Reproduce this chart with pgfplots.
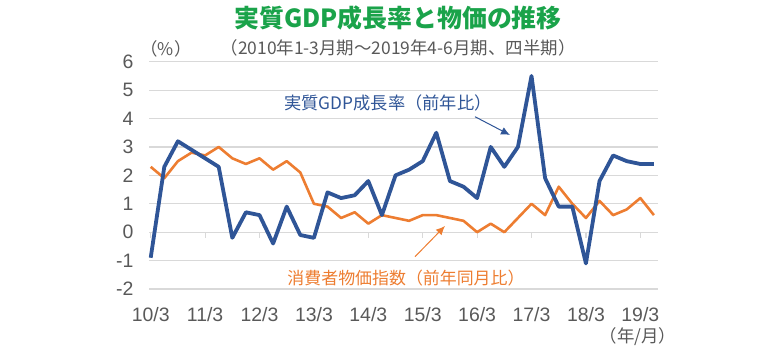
\documentclass[border=0pt]{standalone}
\usepackage{pgfplots}
\pgfplotsset{compat=1.18}
\usepackage{pgfplotstable}
\usetikzlibrary{arrows.meta}
\usepackage{fontspec}
\setmainfont{Liberation Sans}
\newfontfamily\jp{Noto Sans CJK JP}
\definecolor{gdpblue}{HTML}{2F5597}
\definecolor{cpiorange}{HTML}{ED7D31}
\definecolor{titlegreen}{HTML}{1AA34A}
\definecolor{txtgray}{HTML}{595959}
\definecolor{gridgray}{HTML}{D9D9D9}
\pgfplotstableread{
q gdp cpi
0 -0.9 2.3
1 2.3 1.9
2 3.2 2.5
3 2.9 2.8
4 2.6 2.7
5 2.3 3.0
6 -0.2 2.6
7 0.7 2.4
8 0.6 2.6
9 -0.4 2.2
10 0.9 2.5
11 -0.1 2.1
12 -0.2 1.0
13 1.4 0.9
14 1.2 0.5
15 1.3 0.7
16 1.8 0.3
17 0.6 0.6
18 2.0 0.5
19 2.2 0.4
20 2.5 0.6
21 3.5 0.6
22 1.8 0.5
23 1.6 0.4
24 1.2 0.0
25 3.0 0.3
26 2.3 0.0
27 3.0 0.5
28 5.5 1.0
29 1.9 0.6
30 0.9 1.6
31 0.9 1.0
32 -1.1 0.5
33 1.8 1.1
34 2.7 0.6
35 2.5 0.8
36 2.4 1.2
37 2.4 0.6
}\datatable
\begin{document}
\begin{tikzpicture}
\path[use as bounding box] (0,0) rectangle (780bp,-352bp);
\begin{axis}[
  at={(149bp,-289bp)}, anchor=south west,
  scale only axis, width=509bp, height=227.3bp,
  xmin=-0.125, xmax=37.3, ymin=-2, ymax=6,
  axis line style={draw=none},
  major tick length=0pt,
  xtick={0,4,...,36},
  xticklabels={10/3,11/3,12/3,13/3,14/3,15/3,16/3,17/3,18/3,19/3},
  ytick={-2,-1,...,6},
  ymajorgrids, grid style={gridgray, line width=1.2bp},
  /pgf/number format/assume math mode=true,
  tick label style={font=\fontsize{19.5}{19.5}\selectfont, text=txtgray},
  xticklabel style={yshift=-15bp},
  yticklabel style={xshift=-12bp},
  clip=false,
]
\draw[gridgray, line width=1.2bp] (axis cs:-0.125,0) -- (axis cs:37.3,0);
\pgfplotsinvokeforeach{0,4,...,36}{
  \draw[gridgray, line width=1.2bp] (axis cs:#1,0) -- ([yshift=-6bp]axis cs:#1,0);
}
\addplot[cpiorange, line width=2.6bp, line join=round] table[x=q, y=cpi] {\datatable};
\addplot[gdpblue, line width=3.8bp, line join=round] table[x=q, y=gdp] {\datatable};
\end{axis}
\node[font=\jp\bfseries\fontsize{25}{25}\selectfont, text=titlegreen] at (398bp,-18bp) {実質GDP成長率と物価の推移};
\node[font=\jp\fontsize{17.5}{17.5}\selectfont, text=txtgray] at (398bp,-48bp) {（2010年1-3月期～2019年4-6月期、四半期）};
\node[font=\jp\fontsize{17.5}{17.5}\selectfont, text=txtgray] at (166bp,-49bp) {（\%）};
\node[font=\jp\fontsize{17.5}{17.5}\selectfont, text=txtgray] at (638bp,-337bp) {（年/月）};
\node[font=\jp\fontsize{17.3}{17.3}\selectfont, text=gdpblue] at (388bp,-103bp) {実質GDP成長率（前年比）};
\node[font=\jp\fontsize{17}{17}\selectfont, text=cpiorange] at (406bp,-278bp) {消費者物価指数（前年同月比）};
\draw[gdpblue, line width=1bp, -{Latex[length=9bp,width=8bp]}] (475bp,-116.7bp) -- (510bp,-135bp);
\draw[cpiorange, line width=1bp, -{Latex[length=9bp,width=8bp]}] (415bp,-256.7bp) -- (445bp,-226bp);
\end{tikzpicture}
\end{document}
